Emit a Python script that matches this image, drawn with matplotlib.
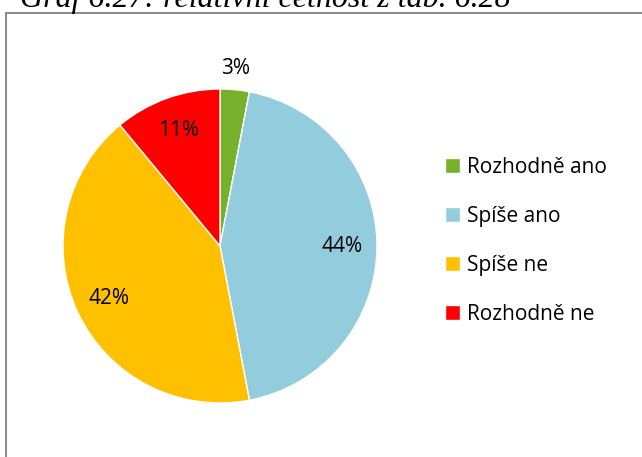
import matplotlib.pyplot as plt
from matplotlib.patches import Rectangle

categories = ["Rozhodně ano", "Spíše ano", "Spíše ne", "Rozhodně ne"]
values = [3, 44, 42, 11]
colors = ["#77B12B", "#93CDDD", "#FFC000", "#FF0000"]
title = "Graf 6.27: relativní četnost z tab. 6.28"

plt.rcParams['font.family'] = ['Open Sans', 'DejaVu Sans']

W, H = 642, 457
fig = plt.figure(figsize=(W / 100, H / 100), dpi=100)

# frame of the chart area (cut off at right and bottom)
fig.patches.append(Rectangle((6 / W, -0.1), 1.0, (H - 13) / H + 0.1,
                             transform=fig.transFigure, fill=False,
                             edgecolor="#8c8c8c", linewidth=1.5))

# caption cut off at the top
fig.text(20 / W, 1 - 7 / H, title, family="Liberation Serif", style="italic",
         fontsize=23, ha="left", va="baseline")

cx, cy, r = 220, 246, 157
ax = fig.add_axes([(cx - r) / W, (H - cy - r) / H, 2 * r / W, 2 * r / H])
wedges, texts, autotexts = ax.pie(values, colors=colors, startangle=90,
                                  counterclock=False, radius=1,
                                  autopct="%d%%", pctdistance=0.78,
                                  wedgeprops=dict(linewidth=1, edgecolor="white"),
                                  textprops=dict(fontsize=15))
autotexts[0].set_position((0.1, 1.13))
ax.set_xlim(-1, 1)
ax.set_ylim(-1, 1)
ax.set_aspect("equal")

fig.legend(wedges, categories, loc="upper left",
           bbox_to_anchor=(428 / W, 1 - 140 / H), frameon=False,
           fontsize=15, handlelength=0.72, handleheight=0.72,
           handletextpad=0.35, labelspacing=1.35, borderpad=0.3)

fig.savefig("out.png", dpi=100)
